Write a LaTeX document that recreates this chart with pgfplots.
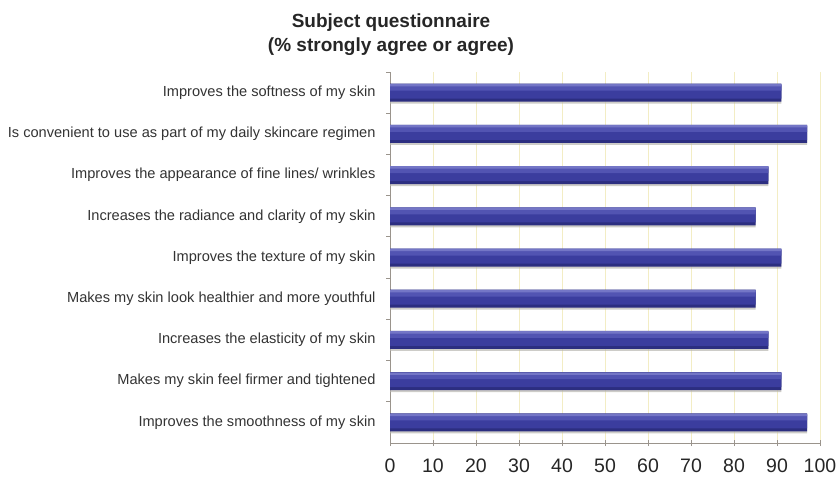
\documentclass[border=0pt]{standalone}
\usepackage{pgfplots}
\pgfplotsset{compat=1.18}
\usepackage{fontspec}
\setmainfont{Liberation Sans}
\definecolor{barmid}{HTML}{3B3D9E}
\definecolor{barhi}{HTML}{5254B2}
\definecolor{bartop}{HTML}{7476C6}
\definecolor{barbot}{HTML}{2C2E80}
\definecolor{shadow}{HTML}{B8B6B0}
\definecolor{gridy}{HTML}{F3EDC4}
\definecolor{axgray}{HTML}{9A948C}
\definecolor{labgray}{HTML}{333333}
\pgfplotstableread{
y v
0 97
1 91
2 88
3 85
4 91
5 85
6 88
7 97
8 91
}\datatab
\begin{document}
\begin{tikzpicture}[x=1pt,y=1pt]
\path[use as bounding box] (0,0) rectangle (837,480);
\node[align=center,font=\fontsize{19}{24}\selectfont\bfseries,text=black!85] at (391,445) {Subject questionnaire\\(\% strongly agree or agree)};
\begin{axis}[
  at={(390pt,37pt)}, anchor=south west,
  scale only axis, width=430pt, height=371pt,
  xmin=0, xmax=100, ymin=-0.5, ymax=8.5,
  xbar,
  axis x line*=bottom, axis y line*=left,
  axis line style={axgray, line width=0.8pt},
  xtick={0,10,...,100},
  xmajorgrids, major grid style={gridy, line width=0.8pt},
  x tick style={axgray, line width=0.8pt},
  xtick align=center, major tick length=6pt,
  x tick label style={font=\fontsize{19.5}{20}\selectfont, text=black!85, yshift=-9pt},
  /pgf/number format/assume math mode=true,
  ytick={0,...,8},
  y tick style={draw=none},
  yticklabels={Improves the smoothness of my skin, Makes my skin feel firmer and tightened, Increases the elasticity of my skin, Makes my skin look healthier and more youthful, Improves the texture of my skin, Increases the radiance and clarity of my skin, Improves the appearance of fine lines/ wrinkles, Is convenient to use as part of my daily skincare regimen, Improves the softness of my skin},
  y tick label style={font=\fontsize{14.6}{15}\selectfont, text=labgray, xshift=-5pt},
  extra y ticks={0.5,1.5,...,8.5},
  extra y tick labels={},
  extra y tick style={y tick style={draw=axgray, line width=0.8pt}, tick align=outside, major tick length=4pt},
  clip=false,
]
\addplot[fill=shadow, draw=none, bar width=18pt, bar shift=-2pt, opacity=0.7] table[x=v,y=y] {\datatab};
\addplot[fill=barbot, draw=none, bar width=18pt, bar shift=0pt] table[x=v,y=y] {\datatab};
\addplot[fill=barmid, draw=none, bar width=14pt, bar shift=1pt] table[x=v,y=y] {\datatab};
\addplot[fill=barhi, draw=none, bar width=6pt, bar shift=5pt] table[x=v,y=y] {\datatab};
\addplot[fill=bartop, draw=none, bar width=2.5pt, bar shift=7.6pt] table[x=v,y=y] {\datatab};
\end{axis}
\end{tikzpicture}
\end{document}
